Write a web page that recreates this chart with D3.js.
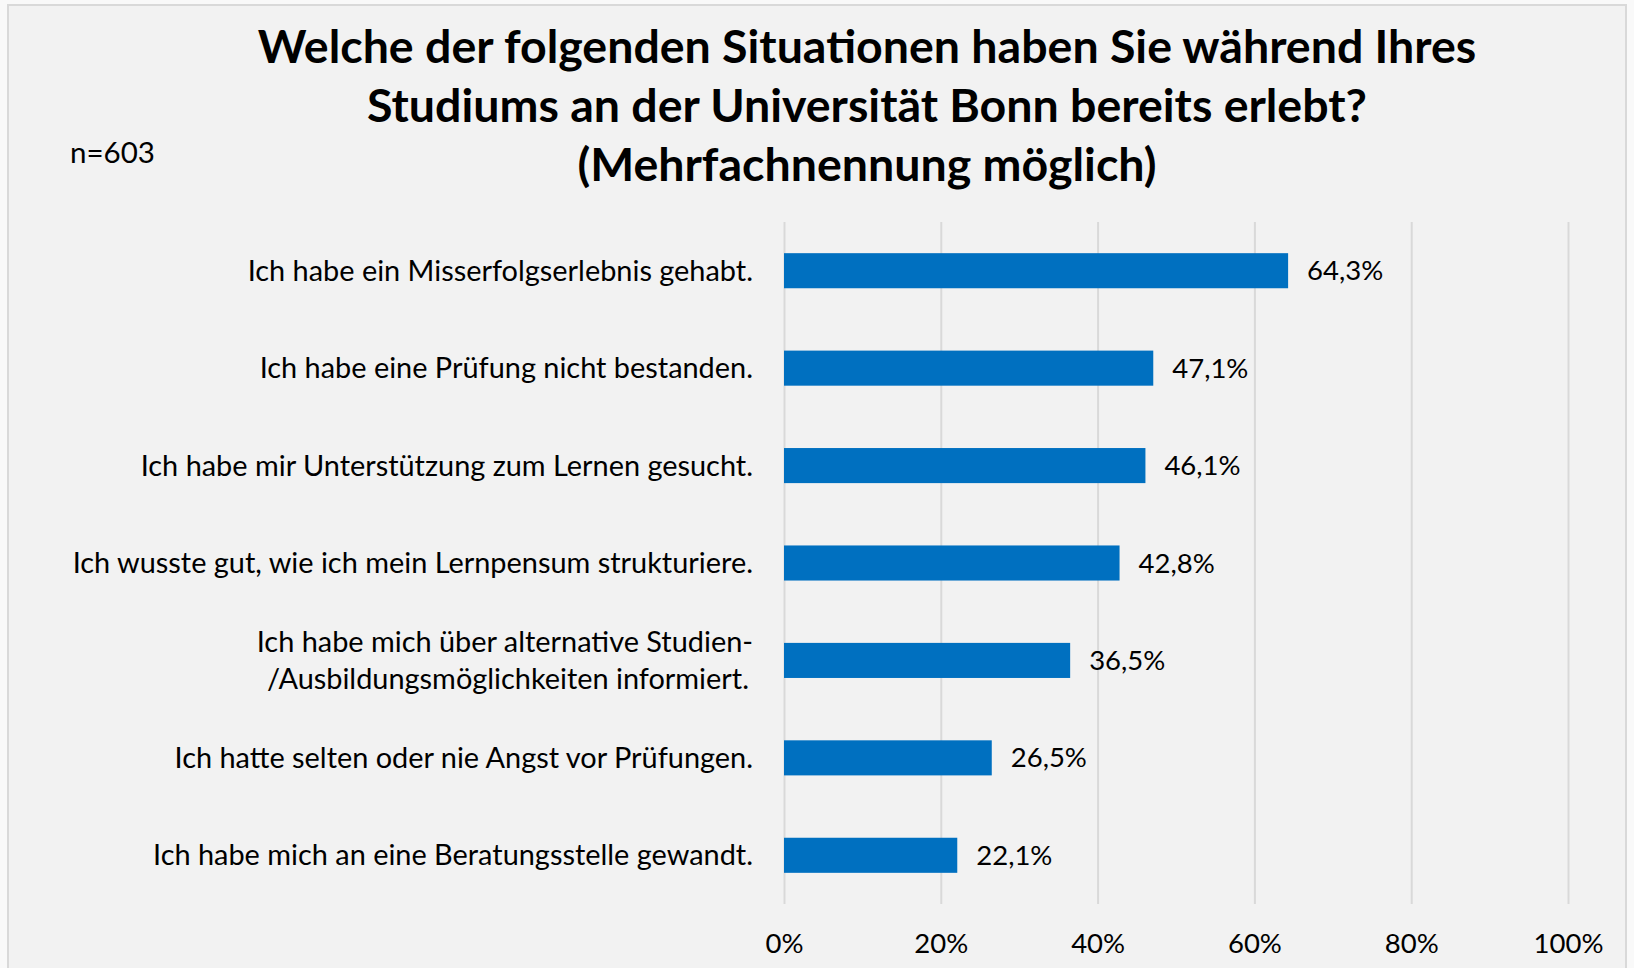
<!DOCTYPE html>
<html>
<head>
<meta charset="utf-8">
<script src="https://cdn.jsdelivr.net/npm/d3@7"></script>
<style>
  html, body { margin: 0; padding: 0; background: #f9f9f9; }
  svg { display: block; }
</style>
</head>
<body>
<div id="chart"></div>
<script>
// data
var categories = [
    ["Ich habe ein Misserfolgserlebnis gehabt."],
    ["Ich habe eine Prüfung nicht bestanden."],
    ["Ich habe mir Unterstützung zum Lernen gesucht."],
    ["Ich wusste gut, wie ich mein Lernpensum strukturiere."],
    ["Ich habe mich über alternative Studien-", "/Ausbildungsmöglichkeiten informiert."],
    ["Ich hatte selten oder nie Angst vor Prüfungen."],
    ["Ich habe mich an eine Beratungsstelle gewandt."]
];
var values = [0.643, 0.471, 0.461, 0.428, 0.365, 0.265, 0.221];
var tickValues = [0, 0.2, 0.4, 0.6, 0.8, 1];
var titleLines = [
    "Welche der folgenden Situationen haben Sie während Ihres",
    "Studiums an der Universität Bonn bereits erlebt?",
    "(Mehrfachnennung möglich)"
];
var sampleNote = "n=603";

var areaWidth = 1634, areaHeight = 968;
var font = "Lato, 'Open Sans', sans-serif";
var barColor = "#0070c0";

var svg = d3.select("#chart").append("svg")
    .attr("width", areaWidth)
    .attr("height", areaHeight);

// chart frame
svg.append("rect")
    .attr("x", 8).attr("y", 5)
    .attr("width", 1618).attr("height", 980)
    .style("fill", "#f2f2f2")
    .style("stroke", "#d9d9d9")
    .style("stroke-width", 2);

var xScale = d3.scaleLinear().domain([0, 1]).range([784, 1568]);
var yScale = d3.scaleBand()
    .domain(d3.range(categories.length))
    .range([222, 904])
    .paddingInner(0.64)
    .paddingOuter(0.32);

// gridlines
var grid = svg.append("g")
    .attr("transform", "translate(0,904)")
    .call(d3.axisBottom(xScale).tickValues(tickValues).tickSize(-(904 - 222)).tickFormat(""));
grid.select(".domain").remove();
grid.selectAll("line").style("stroke", "#d9d9d9").style("stroke-width", 2);

// axis labels
var axis = svg.append("g")
    .attr("transform", "translate(0,904)")
    .call(d3.axisBottom(xScale).tickValues(tickValues).tickSize(0).tickPadding(29).tickFormat(d3.format(".0%")));
axis.select(".domain").remove();
axis.selectAll("text")
    .style("font-family", font)
    .style("font-size", "27.5px")
    .style("fill", "#000");

// bars
svg.selectAll("rect.bar")
    .data(values)
    .enter()
    .append("rect")
    .attr("class", "bar")
    .attr("x", xScale(0))
    .attr("y", function(d, i) { return yScale(i); })
    .attr("width", function(d) { return xScale(d) - xScale(0); })
    .attr("height", yScale.bandwidth())
    .style("fill", barColor);

// value labels
svg.selectAll("text.value")
    .data(values)
    .enter()
    .append("text")
    .attr("class", "value")
    .text(function(d) { return d3.format(".1%")(d).replace(".", ","); })
    .attr("x", function(d) { return xScale(d) + 19; })
    .attr("y", function(d, i) { return yScale(i) + yScale.bandwidth() / 2; })
    .attr("dy", "0.35em")
    .style("font-family", font)
    .style("font-size", "27.5px")
    .style("fill", "#000");

// category labels
var labels = svg.selectAll("text.cat")
    .data(categories)
    .enter()
    .append("text")
    .attr("class", "cat")
    .attr("text-anchor", "end")
    .attr("y", function(d, i) { return yScale(i) + yScale.bandwidth() / 2; })
    .style("font-family", font)
    .style("font-size", "28.9px")
    .style("fill", "#000");

labels.each(function(d) {
    var t = d3.select(this);
    var lineH = 36.5 / 28.9;
    d.forEach(function(line, j) {
        t.append("tspan")
            .attr("x", j == 0 ? 753 : 749)
            .attr("dy", j == 0 ? (-(d.length - 1) / 2 * lineH + 0.35) + "em" : lineH + "em")
            .text(line);
    });
});

// title
svg.append("text")
    .attr("text-anchor", "middle")
    .style("font-family", font)
    .style("font-weight", "bold")
    .style("font-size", "46.5px")
    .style("fill", "#000")
    .selectAll("tspan")
    .data(titleLines)
    .enter()
    .append("tspan")
    .attr("x", 867)
    .attr("y", function(d, i) { return 63 + i * 59; })
    .text(function(d) { return d; });

// sample size note
svg.append("text")
    .attr("x", 70)
    .attr("y", 163)
    .text(sampleNote)
    .style("font-family", font)
    .style("font-size", "29.5px")
    .style("fill", "#000");
</script>
</body>
</html>
